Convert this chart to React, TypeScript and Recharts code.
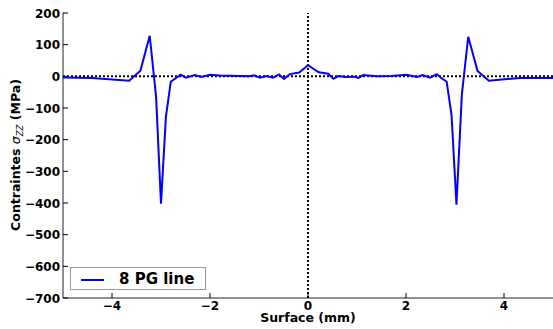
import React from 'react';
import { LineChart, Line, XAxis, YAxis, ReferenceLine } from 'recharts';

// Surface position (mm) and stress sigma_zz (MPa)
const surfaceMm = [
  -5.0, -4.41, -3.65, -3.42, -3.23, -3.1, -3.0, -2.9, -2.8, -2.6, -2.49, -2.31, -2.18, -2.0,
  -1.8, -1.6, -1.4, -1.2, -1.1, -0.98, -0.84, -0.71, -0.59, -0.49, -0.37, -0.18, -0.06, 0.0,
  0.22, 0.41, 0.52, 0.62, 0.76, 0.93, 1.03, 1.13, 1.4, 1.7, 2.01, 2.22, 2.34, 2.49, 2.63,
  2.73, 2.83, 2.93, 3.03, 3.14, 3.27, 3.46, 3.69, 4.33, 5.0,
];
const stressMpa = [
  -4, -5, -14, 18, 128, -65, -402, -128, -17, 5, -4, 4, -2, 5,
  3, 2, 1, 0, 3, -4, 1, -4, 6, -8, 7, 12, 27, 35,
  13, 8, -8, 1, -2, -1, -5, 4, 0, 1, 5, -2, 4, -4, 7,
  -6, -17, -123, -405, -58, 125, 17, -14, -5, -5,
];
const xTicks = [-4, -2, 0, 2, 4];
const yTicks = [200, 100, 0, -100, -200, -300, -400, -500, -600, -700];
const seriesName = '8 PG line';

const data = surfaceMm.map((x, i) => ({ x, y: stressMpa[i] }));

const FONT = '"DejaVu Sans", sans-serif';
const W = 553;
const H = 329;
const PLOT_TOP = 13;

const fmt = (v: number) => (v < 0 ? '\u2212' + Math.abs(v) : String(v));

const BottomTick = (props: any) => {
  const { x, y, payload } = props;
  return (
    <g>
      <line x1={x} y1={y} x2={x} y2={y - 5} stroke="#000" />
      <text x={x} y={y + 12} textAnchor="middle" fontFamily={FONT} fontWeight="bold" fontSize={12} fill="#000">
        {fmt(payload.value)}
      </text>
    </g>
  );
};

const TopTick = (props: any) => {
  const { x } = props;
  return <line x1={x} y1={PLOT_TOP} x2={x} y2={PLOT_TOP + 5} stroke="#000" />;
};

const LeftTick = (props: any) => {
  const { x, y, payload } = props;
  return (
    <g>
      <line x1={x} y1={y} x2={x + 5} y2={y} stroke="#000" />
      <text x={x - 3} y={y + 4.5} textAnchor="end" fontFamily={FONT} fontWeight="bold" fontSize={12} fill="#000">
        {fmt(payload.value)}
      </text>
    </g>
  );
};

export default function App() {
  return (
    <div style={{ position: 'absolute', left: 0, top: 0, width: W, height: H, background: '#fff' }}>
      <LineChart width={W} height={H} data={data} margin={{ top: PLOT_TOP, right: 0, bottom: 0, left: 0 }}>
        <XAxis
          dataKey="x"
          type="number"
          domain={[-5, 5]}
          ticks={xTicks}
          height={31}
          tickSize={0}
          tickMargin={0}
          tickLine={false}
          tick={<BottomTick />}
          axisLine={{ stroke: '#222' }}
          allowDataOverflow
        />
        <XAxis
          xAxisId="top"
          orientation="top"
          dataKey="x"
          type="number"
          domain={[-5, 5]}
          ticks={xTicks}
          height={0}
          tickSize={0}
          tickMargin={0}
          tickLine={false}
          tick={<TopTick />}
          axisLine={{ stroke: '#222' }}
        />
        <YAxis
          type="number"
          domain={[-700, 200]}
          ticks={yTicks}
          width={63}
          tickSize={0}
          tickMargin={0}
          tickLine={false}
          tick={<LeftTick />}
          axisLine={{ stroke: '#222' }}
          allowDataOverflow
        />
        <ReferenceLine y={0} stroke="#000" strokeWidth={2} strokeDasharray="2 2" />
        <ReferenceLine x={0} stroke="#000" strokeWidth={2} strokeDasharray="2 2" />
        <Line
          type="linear"
          dataKey="y"
          name={seriesName}
          stroke="#0000ff"
          strokeWidth={2}
          dot={false}
          isAnimationActive={false}
        />
      </LineChart>

      <svg width={W} height={H} style={{ position: 'absolute', left: 0, top: 0, pointerEvents: 'none' }}>
        <text x={308} y={322} textAnchor="middle" fontFamily={FONT} fontWeight="bold" fontSize={12.5} fill="#000">
          Surface (mm)
        </text>
        <text
          transform="translate(20,155) rotate(-90)"
          textAnchor="middle"
          fontFamily={FONT}
          fontWeight="bold"
          fontSize={12.5}
          fill="#000"
        >
          Contraintes{' '}
          <tspan fontStyle="italic" fontWeight="normal">σ</tspan>
          <tspan fontStyle="italic" fontWeight="normal" fontSize={8.5} dy={3}>ZZ</tspan>
          <tspan dy={-3}> (MPa)</tspan>
        </text>
      </svg>

      <div
        style={{
          position: 'absolute',
          left: 70,
          top: 267,
          width: 136,
          height: 23,
          border: '1px solid #999',
          background: '#fff',
          boxSizing: 'border-box',
        }}
      >
        <div style={{ position: 'absolute', left: 10, top: 11, width: 23, height: 2, background: '#0000ff' }} />
        <div
          style={{
            position: 'absolute',
            left: 48,
            top: 1,
            fontFamily: FONT,
            fontWeight: 'bold',
            fontSize: 15,
            lineHeight: '20px',
            color: '#000',
            whiteSpace: 'nowrap',
          }}
        >
          {seriesName}
        </div>
      </div>
    </div>
  );
}
